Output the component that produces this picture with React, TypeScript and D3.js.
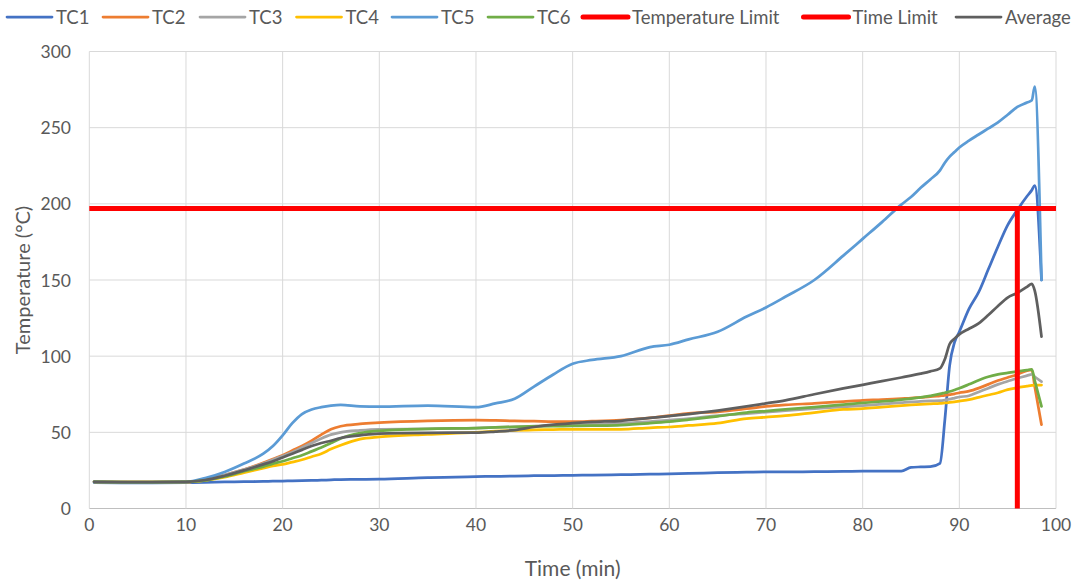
import React from "react";
import * as d3 from "d3";

// ---- data (time in minutes, temperatures in °C) ----
const TIME = [0.5, 5, 10, 12, 14, 16, 18, 19, 20, 21, 22, 23, 24, 25, 26, 28, 30, 35, 40, 42, 44, 46, 48, 50, 52, 55, 58, 60, 62, 65, 68, 70, 72, 75, 78, 80, 82, 84, 85, 86, 87, 88, 88.5, 89, 89.5, 90, 91, 92, 93, 94, 95, 96, 97, 97.5, 97.8, 98.5];

const TC1 = [17, 16.8, 17, 17.2, 17.4, 17.6, 17.8, 17.9, 18, 18.2, 18.3, 18.4, 18.6, 18.8, 19, 19.1, 19.3, 20.3, 21, 21.1, 21.3, 21.5, 21.6, 21.8, 21.9, 22.2, 22.5, 22.8, 23, 23.5, 23.8, 24, 24, 24.2, 24.3, 24.5, 24.5, 24.6, 27, 27.3, 27.5, 29.7, 58, 94, 109, 116, 131, 142, 157, 172, 186, 196, 205, 209, 212, 150];
const TC2 = [17.5, 17.3, 17.5, 19, 22, 25.5, 30, 32.5, 35, 38, 41, 44.5, 48.5, 52, 54, 55.5, 56.3, 57.5, 58, 57.8, 57.5, 57.3, 57, 57, 57.3, 58, 59.5, 61, 62.5, 63.5, 65.5, 67, 68, 69, 70.2, 71, 71.5, 72.2, 72.5, 73, 73.4, 74, 74.3, 74.8, 75.3, 76, 77, 79, 81.5, 84, 86, 88, 90.5, 91, 80, 55];
const TC3 = [17.5, 17.3, 17.5, 19, 22, 25.5, 29.5, 32, 34.5, 37, 40, 43, 46, 48.5, 50, 51.3, 52, 52.3, 52.8, 53.2, 53.6, 54, 54.4, 54.8, 55.2, 56, 57, 58, 59, 61, 62.3, 63.3, 64.2, 65.5, 66.7, 67.5, 68.5, 69.5, 70, 70.3, 70.6, 70.8, 71.2, 71.8, 72.5, 73.2, 74, 76.5, 79, 81.5, 83.5, 85.5, 87.2, 88, 86.5, 83.3];
const TC4 = [17.5, 17.3, 17.5, 18.5, 20.5, 23.5, 26.5, 28, 29, 30.5, 32, 34, 36, 39, 41.5, 45.5, 47, 48.7, 50, 50.8, 51.3, 51.6, 51.8, 52, 52, 52, 53, 53.5, 54.5, 56, 59, 60, 61, 63, 65, 65.5, 66.5, 67.5, 68, 68.4, 68.7, 69, 69.3, 69.6, 70, 70.5, 71.5, 73, 74.5, 76, 78, 79.3, 80.3, 80.8, 81, 81];
const TC5 = [17.5, 17.2, 17.5, 20, 24, 29.5, 36, 41, 48, 56, 62, 65, 66.5, 67.5, 68, 67, 66.8, 67.5, 66.5, 69, 72, 80, 88, 95, 97.5, 100, 106, 107.5, 111, 116, 126, 132, 139, 150, 166, 177, 188, 199.5, 204.5, 210.5, 216, 222, 227, 231, 234, 237, 241.5, 245.5, 249.5, 253.5, 258.5, 263.6, 266.5, 268, 277, 150];
const TC6 = [17.5, 17.3, 17.5, 18.5, 21, 24.5, 27.5, 29.5, 31, 33, 35, 37.5, 40, 43, 46, 49.5, 51, 52.3, 52.8, 53.2, 53.6, 53.9, 54.1, 54.2, 54.4, 54.8, 56, 57, 58.3, 60.5, 63, 64, 65, 66.5, 68.2, 69.3, 70.3, 71.5, 72.2, 73, 74, 75.2, 76, 76.8, 77.8, 78.9, 81.5, 84.2, 86.5, 88, 89, 90, 90.8, 91.4, 84, 67];
const AVERAGE = [17.5, 17.3, 17.5, 18.7, 21.5, 25, 29, 31, 33.5, 36, 38.5, 41, 43, 44.5, 46.3, 48, 49.2, 49.7, 49.8, 50.5, 51.5, 53.5, 55, 56, 56.8, 57.6, 59.5, 60.7, 62, 64.3, 67, 69, 71, 75, 78.8, 81.2, 83.6, 86, 87.2, 88.5, 90, 92, 98, 108, 111.5, 114.3, 118, 121.5, 127, 133, 138.5, 141.5, 145.5, 147.5, 143, 112.8];

const TEMPERATURE_LIMIT = 197;
const TIME_LIMIT = 96;

const X_TICKS = [0, 10, 20, 30, 40, 50, 60, 70, 80, 90, 100];
const Y_TICKS = [0, 50, 100, 150, 200, 250, 300];

const SERIES_NAMES = ["TC1", "TC2", "TC3", "TC4", "TC5", "TC6"];
const SERIES_VALUES = [TC1, TC2, TC3, TC4, TC5, TC6];
const LEGEND_NAMES = ["TC1", "TC2", "TC3", "TC4", "TC5", "TC6", "Temperature Limit", "Time Limit", "Average"];

// ---- styles ----
const COLORS: Record<string, string> = {
  TC1: "#4472C4",
  TC2: "#ED7D31",
  TC3: "#A5A5A5",
  TC4: "#FFC000",
  TC5: "#5B9BD5",
  TC6: "#70AD47",
  "Temperature Limit": "#FF0000",
  "Time Limit": "#FF0000",
  Average: "#5F5F5F",
};
const LEGEND_X = [7, 103, 200, 296.5, 392, 488, 583, 803.5, 956];
const FONT = "Lato, 'Open Sans', sans-serif";
const TEXT = "#595959";

export default function App() {
  const W = 1073;
  const H = 580;
  const x = d3.scaleLinear().domain([0, 100]).range([89.3, 1056]);
  const y = d3.scaleLinear().domain([0, 300]).range([508.5, 51.5]);

  const line = d3
    .line<number>()
    .x((_, i) => x(TIME[i]))
    .y((d) => y(d))
    .curve(d3.curveMonotoneX);

  return (
    <svg width={W} height={H} style={{ position: "absolute", left: 0, top: 0 }} fontFamily={FONT}>
      <rect width={W} height={H} fill="#fff" />
      {/* grid */}
      {Y_TICKS.map((t) => (
        <line key={"gy" + t} x1={x(0)} x2={x(100)} y1={y(t)} y2={y(t)} stroke={t === 0 ? "#BFBFBF" : "#D9D9D9"} strokeWidth={1} />
      ))}
      {X_TICKS.map((t) => (
        <line key={"gx" + t} x1={x(t)} x2={x(t)} y1={y(0)} y2={y(300)} stroke="#D9D9D9" strokeWidth={1} />
      ))}
      {/* y ticks */}
      {Y_TICKS.map((t) => (
        <text key={"ty" + t} x={71} y={y(t)} textAnchor="end" dominantBaseline="central" fontSize={17.5} fill={TEXT}>
          {t}
        </text>
      ))}
      {/* x ticks */}
      {X_TICKS.map((t) => (
        <text key={"tx" + t} x={x(t)} y={524} textAnchor="middle" dominantBaseline="central" fontSize={17.5} fill={TEXT}>
          {t}
        </text>
      ))}
      {/* axis titles */}
      <text x={x(50)} y={567} textAnchor="middle" dominantBaseline="central" fontSize={21} fill={TEXT}>
        Time (min)
      </text>
      <text
        transform={`translate(22,${(y(0) + y(300)) / 2}) rotate(-90)`}
        textAnchor="middle"
        dominantBaseline="central"
        fontSize={20}
        fill={TEXT}
      >
        Temperature (°C)
      </text>
      {/* series */}
      {SERIES_VALUES.map((vals, i) => (
        <path key={SERIES_NAMES[i]} d={line(vals) || ""} fill="none" stroke={COLORS[SERIES_NAMES[i]]} strokeWidth={2.75} strokeLinejoin="round" strokeLinecap="round" />
      ))}
      <path d={line(AVERAGE) || ""} fill="none" stroke={COLORS.Average} strokeWidth={2.75} strokeLinejoin="round" strokeLinecap="round" />
      {/* limits */}
      <line x1={x(0)} x2={x(100)} y1={y(TEMPERATURE_LIMIT)} y2={y(TEMPERATURE_LIMIT)} stroke={COLORS["Temperature Limit"]} strokeWidth={5} />
      <line x1={x(TIME_LIMIT)} x2={x(TIME_LIMIT)} y1={y(0)} y2={y(TEMPERATURE_LIMIT)} stroke={COLORS["Time Limit"]} strokeWidth={5} />
      {/* legend */}
      {LEGEND_NAMES.map((n, i) => {
        const lx = LEGEND_X[i];
        const isLimit = n.includes("Limit");
        return (
          <g key={"lg" + n}>
            <line x1={lx} x2={lx + 45} y1={17} y2={17} stroke={COLORS[n]} strokeWidth={isLimit ? 5 : 2.75} strokeLinecap="round" />
            <text x={lx + 49} y={17} dominantBaseline="central" fontSize={18.5} fill={TEXT}>
              {n}
            </text>
          </g>
        );
      })}
    </svg>
  );
}
